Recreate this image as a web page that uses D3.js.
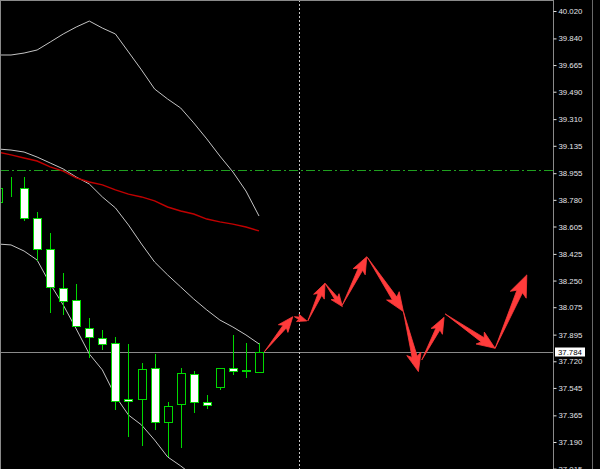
<!DOCTYPE html>
<html>
<head>
<meta charset="utf-8">
<script src="https://cdn.jsdelivr.net/npm/d3@7/dist/d3.min.js"></script>
<style>
    html, body { margin: 0; padding: 0; background: #000; }
    svg { display: block; }
</style>
</head>
<body>
<div class="my_div"></div>
<script>
// Bar numbers, bar -1 is cut by the left edge
var bars = [-1, 0, 1, 2, 3, 4, 5, 6, 7, 8, 9, 10, 11, 12, 13, 14, 15, 16, 17, 18, 19];

// OHLC prices for every bar
var opens  = [38.766, 38.860, 38.858, 38.661, 38.457, 38.201, 38.122, 37.939, 37.873, 37.840, 37.472,
              37.472, 37.676, 37.321, 37.440, 37.637, 37.453, 37.551, 37.676, 37.663, 37.650];
var highs  = [38.910, 38.930, 38.930, 38.700, 38.562, 38.300, 38.228, 38.004, 37.925, 37.879, 37.834,
              37.709, 37.768, 37.453, 37.676, 37.656, 37.499, 37.676, 37.893, 37.840, 37.840];
var lows   = [38.746, 38.799, 38.641, 38.379, 38.037, 38.024, 37.945, 37.742, 37.794, 37.400, 37.223,
              37.164, 37.269, 37.092, 37.151, 37.380, 37.407, 37.531, 37.630, 37.610, 37.643];
var closes = [38.858, 38.858, 38.661, 38.457, 38.208, 38.116, 37.952, 37.879, 37.834, 37.459, 37.459,
              37.669, 37.321, 37.426, 37.643, 37.453, 37.433, 37.676, 37.656, 37.656, 37.784];

// Bollinger bands (grey) and moving average (red)
var upperBand  = [39.731, 39.731, 39.744, 39.764, 39.816, 39.869, 39.915, 39.954, 39.908, 39.869, 39.751,
                  39.633, 39.508, 39.442, 39.383, 39.285, 39.180, 39.068, 38.963, 38.838, 38.674];
var middleBand = [39.114, 39.107, 39.094, 39.061, 39.022, 38.983, 38.930, 38.884, 38.799, 38.727, 38.615,
                  38.490, 38.372, 38.287, 38.208, 38.129, 38.057, 37.991, 37.945, 37.893, 37.834];
var lowerBand  = [38.490, 38.484, 38.444, 38.385, 38.228, 38.090, 37.932, 37.768, 37.663, 37.492, 37.367,
                  37.302, 37.203, 37.092, 37.033, 36.967, 36.888, 36.822, 36.790, 36.757, 36.730];
var maLine     = [39.094, 39.075, 39.055, 39.035, 38.996, 38.969, 38.924, 38.897, 38.878, 38.845, 38.818,
                  38.799, 38.773, 38.733, 38.707, 38.687, 38.654, 38.635, 38.621, 38.602, 38.576];

// Forecast arrows (start and end, in bars and price)
var arrowFromBar   = [19.41, 21.71, 22.74, 24.06, 25.39, 27.30, 30.06, 31.47, 33.26, 37.09];
var arrowFromPrice = [37.783, 38.013, 37.985, 38.232, 38.090, 38.403, 38.046, 37.729, 38.031, 37.805];
var arrowToBar     = [21.59, 22.66, 24.06, 25.39, 27.26, 30.06, 31.21, 33.18, 37.09, 39.52];
var arrowToPrice   = [38.013, 37.985, 38.232, 38.079, 38.407, 38.046, 37.652, 38.009, 37.805, 38.287];

// Price scale labels
var tickLabels = ["40.020", "39.840", "39.665", "39.490", "39.310", "39.135", "38.955", "38.780", "38.605",
                  "38.425", "38.250", "38.075", "37.895", "37.720", "37.545", "37.365", "37.190", "37.015"];

var currentPrice = 37.784;
var levelPrice = 38.976;
var cursorBar = 22.07;

var width = 600,
    height = 469,
    plotRight = 553;

var xScale = d3.scaleLinear()
    .domain([0, 19])
    .range([11, 259]);

var yScale = d3.scaleLinear()
    .domain([40.020, 37.190])
    .range([11, 442]);

var svg = d3.select(".my_div")
    .append("svg")
    .attr("width", width)
    .attr("height", height)
    .style("background", "#000");

svg.append("clipPath")
    .attr("id", "plot")
    .append("rect")
    .attr("width", plotRight)
    .attr("height", height);

var g = svg.append("g")
    .attr("clip-path", "url(#plot)");

// Green dash-dot level
g.append("line")
    .attr("x1", 0).attr("x2", plotRight)
    .attr("y1", Math.round(yScale(levelPrice)) + 0.5)
    .attr("y2", Math.round(yScale(levelPrice)) + 0.5)
    .attr("stroke", "#1fa01f")
    .attr("stroke-dasharray", "9,3,2,3");

// Current price line
g.append("line")
    .attr("x1", 0).attr("x2", plotRight)
    .attr("y1", Math.round(yScale(currentPrice)) + 0.5)
    .attr("y2", Math.round(yScale(currentPrice)) + 0.5)
    .attr("stroke", "#8a8a8a");

// Crosshair vertical dotted line
g.append("line")
    .attr("x1", Math.round(xScale(cursorBar)) + 0.5)
    .attr("x2", Math.round(xScale(cursorBar)) + 0.5)
    .attr("y1", 0).attr("y2", height)
    .attr("stroke", "#c8c8c8")
    .attr("stroke-dasharray", "2,2");

function seriesLine(values) {
    return d3.line()
        .x((d, i) => { return xScale(bars[i]); })
        .y((d) => { return yScale(d); })(values);
}

[upperBand, middleBand, lowerBand].forEach((band) => {
    g.append("path")
        .attr("d", seriesLine(band))
        .attr("fill", "none")
        .attr("stroke", "#c4c4c4")
        .attr("stroke-width", 1);
});

g.append("path")
    .attr("d", seriesLine(maLine))
    .attr("fill", "none")
    .attr("stroke", "#c00000")
    .attr("stroke-width", 1.4);

// Candles
var candle = g.selectAll(".candle")
    .data(bars)
    .enter()
    .append("g")
    .attr("class", "candle");

candle.append("line")
    .attr("x1", (d) => { return Math.round(xScale(d)) + 0.5; })
    .attr("x2", (d) => { return Math.round(xScale(d)) + 0.5; })
    .attr("y1", (d, i) => { return Math.round(yScale(highs[i])); })
    .attr("y2", (d, i) => { return Math.round(yScale(lows[i])); })
    .attr("stroke", "#00d800");

candle.append("rect")
    .attr("x", (d) => { return Math.round(xScale(d)) - 3.5; })
    .attr("y", (d, i) => { return Math.round(yScale(Math.max(opens[i], closes[i]))) + 0.5; })
    .attr("width", 8)
    .attr("height", (d, i) => {
        return Math.max(0, Math.round(yScale(Math.min(opens[i], closes[i]))) - Math.round(yScale(Math.max(opens[i], closes[i]))));
    })
    .attr("fill", (d, i) => { return closes[i] > opens[i] ? "#000" : "#fff"; })
    .attr("stroke", "#00d800");

// Red forecast arrows
function arrowPath(x0, y0, x1, y1) {
    var dx = x1 - x0, dy = y1 - y0;
    var len = Math.sqrt(dx * dx + dy * dy);
    var ux = dx / len, uy = dy / len, nx = -uy, ny = ux;
    var head = Math.min(6 + 0.15 * len, len * 0.8);
    var hw = head * 0.48, sw = head * 0.17, back = head * 0.2;
    var bx = x1 - ux * head, by = y1 - uy * head;
    var pts = [
        [x0, y0],
        [bx + nx * sw, by + ny * sw],
        [bx - ux * back + nx * hw, by - uy * back + ny * hw],
        [x1, y1],
        [bx - ux * back - nx * hw, by - uy * back - ny * hw],
        [bx - nx * sw, by - ny * sw]
    ];
    return "M" + pts.map((p) => { return p[0].toFixed(1) + "," + p[1].toFixed(1); }).join("L") + "Z";
}

g.selectAll(".arrow")
    .data(arrowFromBar)
    .enter()
    .append("path")
    .attr("class", "arrow")
    .attr("d", (d, i) => {
        return arrowPath(xScale(d), yScale(arrowFromPrice[i]), xScale(arrowToBar[i]), yScale(arrowToPrice[i]));
    })
    .attr("fill", "#ff3b3b")
    .attr("stroke", "#ff3b3b")
    .attr("stroke-width", 0.8)
    .attr("stroke-linejoin", "round");

// Frame
svg.append("line")
    .attr("x1", 0).attr("x2", plotRight)
    .attr("y1", 0.5).attr("y2", 0.5)
    .attr("stroke", "#8a8a8a");
svg.append("line")
    .attr("x1", 0.5).attr("x2", 0.5)
    .attr("y1", 0).attr("y2", height)
    .attr("stroke", "#8a8a8a");
svg.append("line")
    .attr("x1", 592.5).attr("x2", 592.5)
    .attr("y1", 0).attr("y2", height)
    .attr("stroke", "#6a6a6a");

// Price axis on the right
var axis = svg.append("g")
    .attr("transform", "translate(" + (plotRight + 0.5) + ",0)")
    .call(d3.axisRight(yScale)
        .tickValues(tickLabels.map(Number))
        .tickFormat((d, i) => { return tickLabels[i]; })
        .tickSize(3)
        .tickPadding(2));

axis.select(".domain")
    .attr("stroke", "#8a8a8a")
    .attr("d", "M0,0V" + height);

axis.selectAll(".tick line")
    .attr("stroke", "#e0e0e0");

axis.selectAll(".tick text")
    .attr("fill", "#e4e4ea")
    .attr("font-family", "Liberation Sans, Arial, sans-serif")
    .attr("font-size", "7.8px");

// Current price label
var cp = svg.append("g")
    .attr("transform", "translate(" + (plotRight + 2) + "," + Math.round(yScale(currentPrice)) + ")");

cp.append("rect")
    .attr("x", 0).attr("y", -4.5)
    .attr("width", 30).attr("height", 9)
    .attr("fill", "#fff");

cp.append("text")
    .text(currentPrice.toFixed(3))
    .attr("x", 3)
    .attr("dy", "0.33em")
    .attr("fill", "#000")
    .attr("font-family", "Liberation Sans, Arial, sans-serif")
    .attr("font-size", "7.8px");
</script>
</body>
</html>
